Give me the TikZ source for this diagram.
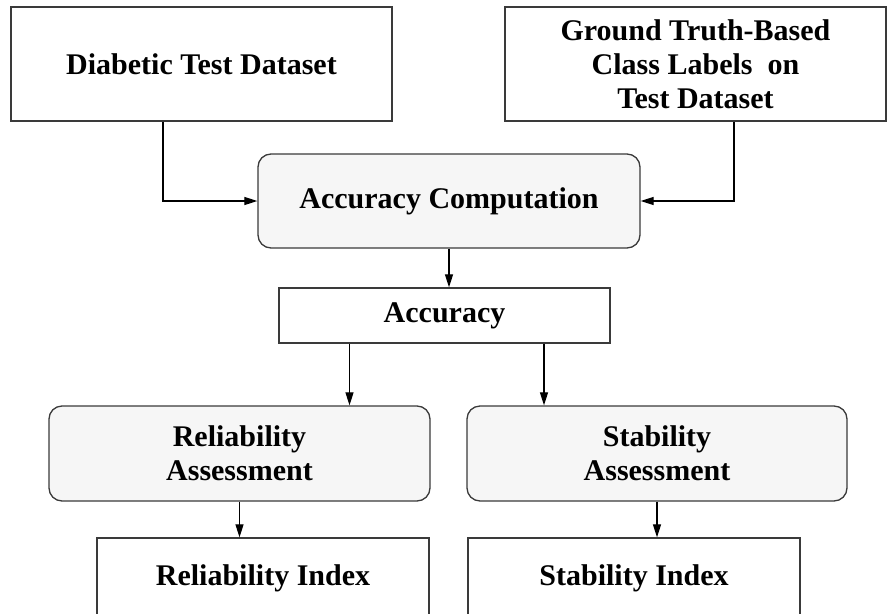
\documentclass[tikz,border=0pt]{standalone}
\usepackage{fontspec}
\setmainfont{Liberation Serif}
\usetikzlibrary{arrows.meta,positioning,calc}
\usepackage{xcolor}
\definecolor{boxline}{HTML}{3A3A3A}
\definecolor{procgray}{HTML}{F6F6F6}
\tikzset{
  box/.style={draw=boxline, line width=1.3pt, align=center, fill=white, inner sep=0pt,
    font=\fontsize{30}{34}\selectfont\bfseries},
  procbox/.style={box, rounded corners=13pt, fill=procgray},
  arrow/.style={-{Triangle[length=13pt,width=8pt]}, line width=1.2pt, draw=black}
}

\begin{document}
\begin{tikzpicture}[x=1pt, y=-1pt]
  \useasboundingbox (0,0) rectangle (891,613);
  \clip (0,0) rectangle (891,613);
  \node[box, minimum width=381pt, minimum height=114pt] (data) at (201.5,64) {Diabetic Test Dataset};
  \node[box, minimum width=381pt, minimum height=114pt] (truth) at (695.5,64) {Ground Truth-Based\\Class Labels\ \ on\\Test Dataset};
  \node[procbox, minimum width=382pt, minimum height=94pt] (acccomp) at (449,201) {Accuracy Computation};
  \node[box, minimum width=331pt, minimum height=55pt] (acc) at (444.5,315.5) {Accuracy};
  \node[procbox, minimum width=381pt, minimum height=95pt] (relass) at (239.5,453.5) {Reliability\\Assessment};
  \node[procbox, minimum width=380pt, minimum height=95pt] (stabass) at (657,453.5) {Stability\\Assessment};
  \node[box, minimum width=332pt, minimum height=80pt] (relidx) at (263,578) {Reliability Index};
  \node[box, minimum width=332pt, minimum height=80pt] (stabidx) at (634,578) {Stability Index};
  \draw[arrow] ([xshift=-38.5pt]data.south) |- (acccomp.west);
  \draw[arrow] ([xshift=38.5pt]truth.south) |- (acccomp.east);
  \draw[arrow] (acccomp.south) -- (acccomp.south |- acc.north);
  \draw[arrow] ([xshift=-95pt]acc.south) -- ([xshift=-95pt]acc.south |- relass.north);
  \draw[arrow] ([xshift=99.5pt]acc.south) -- ([xshift=99.5pt]acc.south |- stabass.north);
  \draw[arrow] (relass.south) -- (relass.south |- relidx.north);
  \draw[arrow] (stabass.south) -- (stabass.south |- stabidx.north);
\end{tikzpicture}
\end{document}
